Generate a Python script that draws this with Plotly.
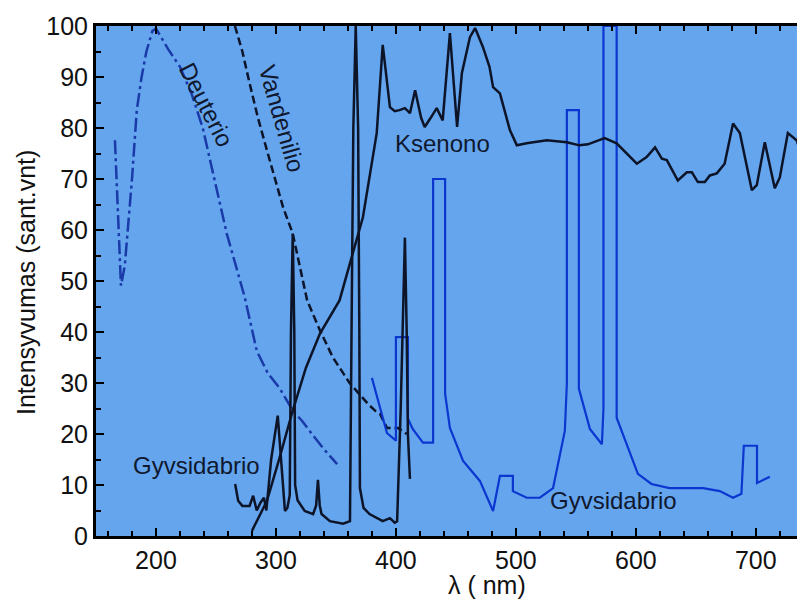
import plotly.graph_objects as go

# ---- data (wavelength nm, relative intensity) ----
deuterio_x = [165.8, 170.8, 174, 180, 184, 188, 192, 197, 200, 210, 220, 230, 239, 247.5, 259, 274, 284, 293, 303, 314, 322, 330, 340, 351]
deuterio_y = [77.6, 49.1, 53, 70, 83.5, 90, 95, 99, 99.5, 95.5, 92, 86.5, 80, 71, 59.3, 46.8, 36.3, 32, 29, 24.6, 22.5, 20, 17, 14.1]

vandenilio_x = [265.8, 272, 278, 285, 292.5, 299, 306, 314, 320, 326, 336.7, 347.5, 361.7, 376.7, 383, 386.7, 392.5, 401.7, 409]
vandenilio_y = [100, 95, 88.8, 82, 75.6, 70, 64.4, 59.3, 52.5, 46.2, 40.3, 35, 29.9, 25.9, 24.5, 24, 21.2, 21.2, 20]

ksenono_x = [280, 292.5, 303, 314, 325, 336.7, 353, 372.5, 384, 389, 395, 399, 403, 407.5, 411.7, 416, 421, 424, 429, 434, 439, 445, 451, 455, 461.7, 466, 472.5, 478, 481, 486.7, 495, 500.8, 509, 525.8, 542.5, 553, 560, 574, 584, 592.5, 600.8, 609, 616, 621.7, 625.8, 635, 642.5, 646.7, 651.7, 657.5, 661.7, 667.5, 674, 681, 686.7, 696.7, 700.8, 707.5, 715.8, 720, 726.7, 734, 741]
ksenono_y = [1, 6.9, 15.3, 24.6, 33, 39.7, 46.2, 62.5, 79, 96.3, 84.1, 83.3, 83.5, 83.9, 82.9, 87.4, 82, 80.2, 82, 83.9, 81.5, 98.6, 80.2, 90.8, 97.8, 99.6, 95.9, 92, 88, 86.8, 79.6, 76.6, 77, 77.6, 77.2, 76.6, 76.8, 78, 77, 75, 73, 74.3, 76.2, 74, 73.7, 69.7, 71.3, 71.3, 69.4, 69.4, 70.7, 71.1, 73, 80.9, 79, 67.8, 68.8, 77.2, 68.2, 70.3, 79, 77.6, 73]

gyv_uv_x = [266, 268.5, 272, 278, 281, 284, 287, 290, 292, 296, 301.5, 304, 307.5, 309.5, 311.5, 312.5, 314, 315.3, 316, 318, 324, 331, 333.5, 335, 336.5, 338, 345, 356, 361.7, 363, 364.5, 366.5, 368.5, 369.5, 370, 373, 378, 389, 395, 399, 401, 404, 407.5, 409, 410, 411.7]
gyv_uv_y = [10.2, 6.9, 5.9, 5.9, 7.9, 5.0, 6.5, 7.5, 5.0, 15, 23.6, 15, 4.9, 5.5, 8, 40, 59.3, 40, 10, 7, 4.9, 4.3, 6, 11, 6, 4.3, 2.9, 2.4, 2.9, 40, 80, 100, 80, 40, 9.4, 5.5, 4.3, 2.9, 3.5, 2.6, 2.9, 25, 58.5, 40, 20, 11.2]

gyv_vis_x = [380, 392.5, 400, 400, 410, 410, 414, 422.5, 431, 431, 441, 441, 445, 456, 470, 481, 486.7, 497.5, 497.5, 509, 520, 531, 540.8, 542.5, 542.5, 552.5, 552.5, 561.7, 571.7, 573, 573, 584, 584, 601.7, 613, 628, 656, 670, 681, 688, 690, 701, 701, 711.7]
gyv_vis_y = [31, 20.2, 18.7, 39, 39, 23, 21, 18.3, 18.3, 70, 70, 27.9, 21.2, 14.7, 10.8, 4.9, 11.8, 11.8, 8.8, 7.5, 7.5, 9.4, 20.6, 30, 83.5, 83.5, 28.9, 21, 18, 25, 100, 100, 23.2, 12.2, 10.2, 9.4, 9.4, 8.8, 7.5, 8.3, 17.7, 17.7, 10.4, 11.6]

labels = ["Deuterio", "Vandenilio", "Ksenono", "Gyvsidabrio", "Gyvsidabrio"]
label_x = [242.5, 305, 439, 234, 581]
label_y = [84.5, 81.9, 77, 13.8, 6.9]
label_angle = [63, 74, 0, 0, 0]

FONT = "Liberation Sans, Arial, sans-serif"
BG = "#64a5ee"
DARKBLUE = "#1a3aa8"
HGBLUE = "#0b36d0"
BLACK = "#0d1428"

fig = go.Figure()
fig.add_trace(go.Scatter(x=deuterio_x, y=deuterio_y, mode="lines",
                         line=dict(color=DARKBLUE, width=2.5, dash="14px,4px,3px,4px")))
fig.add_trace(go.Scatter(x=vandenilio_x, y=vandenilio_y, mode="lines",
                         line=dict(color=BLACK, width=2.5, dash="8px,4px")))
fig.add_trace(go.Scatter(x=gyv_vis_x, y=gyv_vis_y, mode="lines",
                         line=dict(color=HGBLUE, width=2.2)))
fig.add_trace(go.Scatter(x=ksenono_x, y=ksenono_y, mode="lines",
                         line=dict(color=BLACK, width=2.5)))
fig.add_trace(go.Scatter(x=gyv_uv_x, y=gyv_uv_y, mode="lines",
                         line=dict(color=BLACK, width=2.5)))

annots = []
for t, lx, ly, ang in zip(labels, label_x, label_y, label_angle):
    annots.append(dict(x=lx, y=ly, text=t, textangle=ang, xref="x", yref="y",
                       showarrow=False, font=dict(family=FONT, size=24, color="#10182e")))

# axis titles (paper coords relative to plot area)
annots.append(dict(xref="paper", yref="paper", x=(487 - 96) / 709, y=-(585 - 536) / 510,
                   text="λ ( nm)", showarrow=False, xanchor="center", yanchor="middle",
                   font=dict(family=FONT, size=25, color="#111")))
annots.append(dict(xref="paper", yref="paper", x=-(96 - 26) / 709, y=(536 - 283) / 510,
                   text="Intensyvumas (sant.vnt)", showarrow=False, textangle=-90,
                   xanchor="center", yanchor="middle",
                   font=dict(family=FONT, size=25, color="#111")))

# page body has an 8px margin: size the figure so the plot area lands where it should
fig.update_layout(
    width=797, height=593,
    margin=dict(l=88, r=0, t=18, b=65, autoexpand=False),
    paper_bgcolor="white", plot_bgcolor=BG,
    showlegend=False,
    annotations=annots,
    font=dict(family=FONT, size=25, color="#111"),
)
fig.update_xaxes(range=[150, 741], showgrid=False, zeroline=False,
                 showline=True, linecolor="black", linewidth=3, mirror="ticks",
                 ticks="inside", ticklen=8, tickwidth=2, tickcolor="black",
                 tick0=100, dtick=100,
                 minor=dict(dtick=20, tick0=100, ticks="inside", ticklen=5, tickwidth=1.5, tickcolor="black"),
                 tickfont=dict(family=FONT, size=25, color="#111"))
fig.update_yaxes(range=[0, 100], showgrid=False, zeroline=False,
                 showline=True, linecolor="black", linewidth=3,
                 ticks="inside", ticklen=8, tickwidth=2, tickcolor="black",
                 dtick=10,
                 minor=dict(dtick=5, ticks="inside", ticklen=5, tickwidth=1.5, tickcolor="black"),
                 tickfont=dict(family=FONT, size=25, color="#111"))

fig.write_html("out.html")
